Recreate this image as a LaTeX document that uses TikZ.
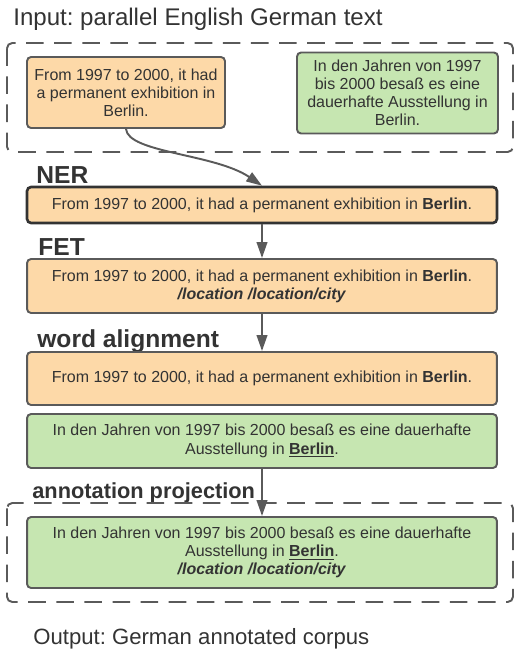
\documentclass[tikz,border=0pt]{standalone}
\usepackage{fontspec}
\setmainfont{Liberation Sans}
\usetikzlibrary{arrows.meta}
\frenchspacing

\definecolor{engfill}{HTML}{FDD9A8}
\definecolor{gerfill}{HTML}{C6E6B1}
\definecolor{edge}{HTML}{5A5A5A}
\definecolor{ink}{HTML}{333333}

\tikzset{
  sent/.style={draw=edge, line width=1.1pt, rounded corners=2.3pt, align=center,
    inner sep=0pt, text=ink, font=\fontsize{9.1}{10.3}\selectfont},
  engbox/.style={sent, fill=engfill},
  gerbox/.style={sent, fill=gerfill},
  wide/.style={minimum width=9.4cm},
  group/.style={draw=edge, line width=1.1pt, dash pattern=on 10pt off 6pt, rounded corners=3pt},
  steplabel/.style={anchor=base west, inner sep=0pt, text=ink, font=\bfseries\fontsize{14}{16}\selectfont},
  caption/.style={anchor=base west, inner sep=0pt, text=ink},
  flow/.style={draw=edge, line width=1.1pt, -{Triangle[length=9pt,width=6pt]}},
}

\begin{document}
\begin{tikzpicture}[x=0.02cm, y=-0.02cm]
    \useasboundingbox (0,0) rectangle (514,650);

    % input
    \node[caption, font=\fontsize{13.7}{16}\selectfont] (title) at (13,25) {Input: parallel English German text};
    \draw [group] (7,43) rectangle (513,152);
    \node[engbox, minimum width=3.96cm, minimum height=1.42cm] (en) at (126,92.5)
        {From 1997 to 2000, it had\\a permanent exhibition in\\Berlin.};
    \node[gerbox, minimum width=4.02cm, minimum height=1.62cm] (de) at (397.5,93)
        {In den Jahren von 1997\\bis 2000 besaß es eine\\dauerhafte Ausstellung in\\Berlin.};

    % NER
    \node[steplabel] (lner) at (36,183) {NER};
    \node[engbox, wide, minimum height=0.72cm, draw=ink, line width=1.5pt] (ner) at (262,205)
        {From 1997 to 2000, it had a permanent exhibition in \textbf{Berlin}.};

    % FET
    \node[steplabel] (lfet) at (38,255) {FET};
    \node[engbox, wide, minimum height=1.08cm] (fet) at (262,286)
        {From 1997 to 2000, it had a permanent exhibition in \textbf{Berlin}.\\
         \textbf{\itshape /location /location/city}};

    % word alignment
    \node[steplabel] (lalign) at (37,347) {word alignment};
    \node[engbox, wide, minimum height=1.06cm] (waen) at (262,378.5)
        {From 1997 to 2000, it had a permanent exhibition in \textbf{Berlin}.};
    \node[gerbox, wide, minimum height=1.08cm] (wade) at (262,441)
        {In den Jahren von 1997 bis 2000 besaß es eine dauerhafte\\
         Ausstellung in \underline{\textbf{Berlin}}.};

    % projection
    \node[steplabel, font=\bfseries\fontsize{12.4}{15}\selectfont] (lproj) at (32,498) {annotation projection};
    \draw [group] (7,503) rectangle (513,602);
    \node[gerbox, wide, minimum height=1.42cm] (proj) at (262,552.5)
        {In den Jahren von 1997 bis 2000 besaß es eine dauerhafte\\
         Ausstellung in \underline{\textbf{Berlin}}.\\
         \textbf{\itshape /location /location/city}};

    \node[caption, font=\fontsize{12.6}{15}\selectfont] (output) at (33,644) {Output: German annotated corpus};

    % arrows
    \draw [flow] (en.south) .. controls +(2,24) and +(-47,-32) .. (ner.north);
    \draw [flow] (ner) -- (fet);
    \draw [flow] (fet) -- (waen);
    \draw [flow] (wade) -- (proj);
\end{tikzpicture}
\end{document}
